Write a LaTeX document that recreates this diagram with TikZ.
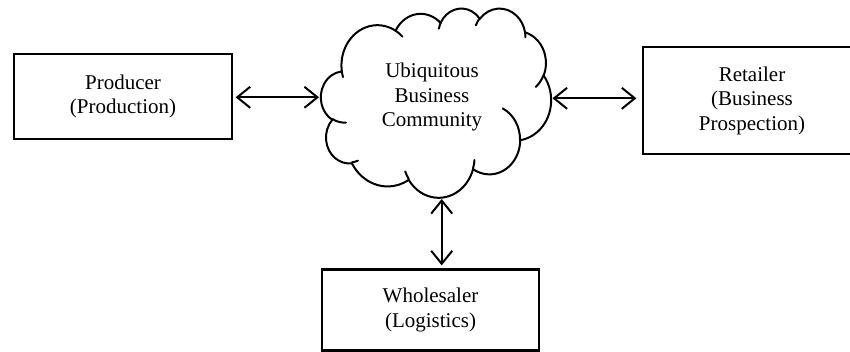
\documentclass[tikz,border=0pt]{standalone}
\usepackage{fontspec}
\setmainfont{Liberation Serif}
\usetikzlibrary{arrows.meta}
\begin{document}
\begin{tikzpicture}[x=1pt,y=-1pt,
  declare function={ooD(\d)=\d-360*round(\d/360);
                    ooT(\w,\h,\a)=\a+ooD(atan2(\w*sin(\a),\h*cos(\a))-\a);},
  ooarc/.style n args={4}{x radius={#1*0.005324pt}, y radius={#2*0.004375pt},
     start angle={-ooT(#1,#2,#3)}, end angle={-ooT(#1,#2,#3+#4)}},
  cloudline/.style={line width=2pt, line join=round, line cap=round},
  box/.style={draw, line width=2.2pt, inner sep=0pt, align=center,
     font=\fontsize{21}{24.5}\selectfont},
  txt/.style={inner sep=0pt, align=center, font=\fontsize{21}{24.5}\selectfont},
  arr/.style={line width=2pt,
     {Straight Barb[length=13pt,width=21pt]}-{Straight Barb[length=13pt,width=21pt]}}]
\useasboundingbox (0,0) rectangle (850,352);
% cloud outline
\draw[cloudline, fill=white] (341.76,70.87)
  arc[ooarc={6753}{9190}{-190.48748}{123.78053}]
  arc[ooarc={5333}{7267}{-144.10238}{89.94523}]
  arc[ooarc={4365}{5945}{-145.80792}{99.72302}]
  arc[ooarc={4857}{6595}{-130.98607}{117.24173}]
  arc[ooarc={5333}{7273}{-78.70888}{109.02692}]
  arc[ooarc={6775}{9220}{-46.26725}{130.269}]
  arc[ooarc={5785}{7867}{0.62502}{114.03333}]
  arc[ooarc={6752}{9215}{22.4516}{115.17255}]
  arc[ooarc={7720}{10543}{66.24263}{75.71102}]
  arc[ooarc={4360}{5918}{-274.94208}{146.73557}]
  arc[ooarc={4345}{5945}{-246.8285}{152.51885}]
  -- cycle;
% cloud inner arcs
\draw[cloudline]
  (345.99,122.52) arc[ooarc={4345}{5945}{86.742}{26.4295}]
  (357.89,160.68) arc[ooarc={4360}{5918}{73.61047}{11.44747}]
  (408.73,179.02) arc[ooarc={6752}{9215}{137.62415}{14.0811}]
  (474.48,160.04) arc[ooarc={6752}{9215}{6.45327}{15.99835}]
  (502.70,108.42) arc[ooarc={5785}{7867}{-70.29235}{70.91737}]
  (543.53,75.17) arc[ooarc={5333}{7273}{30.31803}{27.7515}]
  (525.04,31.74) arc[ooarc={4857}{6595}{-13.74433}{14.8589}]
  (475.81,25.29) arc[ooarc={4857}{6595}{-149.18145}{18.19537}]
  (438.88,28.65) arc[ooarc={4365}{5945}{-163.49427}{17.68635}]
  (395.54,30.72) arc[ooarc={6753}{9190}{-66.70695}{12.31935}]
  (342.97,77.08) arc[ooarc={6753}{9190}{157.65435}{11.85817}];
\node[txt] (cloud) at (432,97) {Ubiquitous\\Business\\Community};
\coordinate (cloudW) at (319,97.3);
\coordinate (cloudE) at (552.5,98.3);
\coordinate (cloudS) at (441.7,199);
% boxes
\node[box, minimum width=218pt, minimum height=85pt] (prod) at (123,96.5) {Producer\\(Production)};
\node[box, minimum width=218pt, minimum height=107pt] (ret) at (752,100.5) {Retailer\\(Business\\Prospection)};
\node[box, minimum width=217pt, minimum height=81pt] (whole) at (430.5,310) {Wholesaler\\(Logistics)};
% connectors
\draw[arr, shorten <=2.5pt] (prod.east |- cloudW) -- (cloudW);
\draw[arr, shorten >=5.5pt] (cloudE) -- (ret.west |- cloudE);
\draw[arr, shorten >=3pt] (cloudS) -- (whole.north -| cloudS);
\end{tikzpicture}
\end{document}
